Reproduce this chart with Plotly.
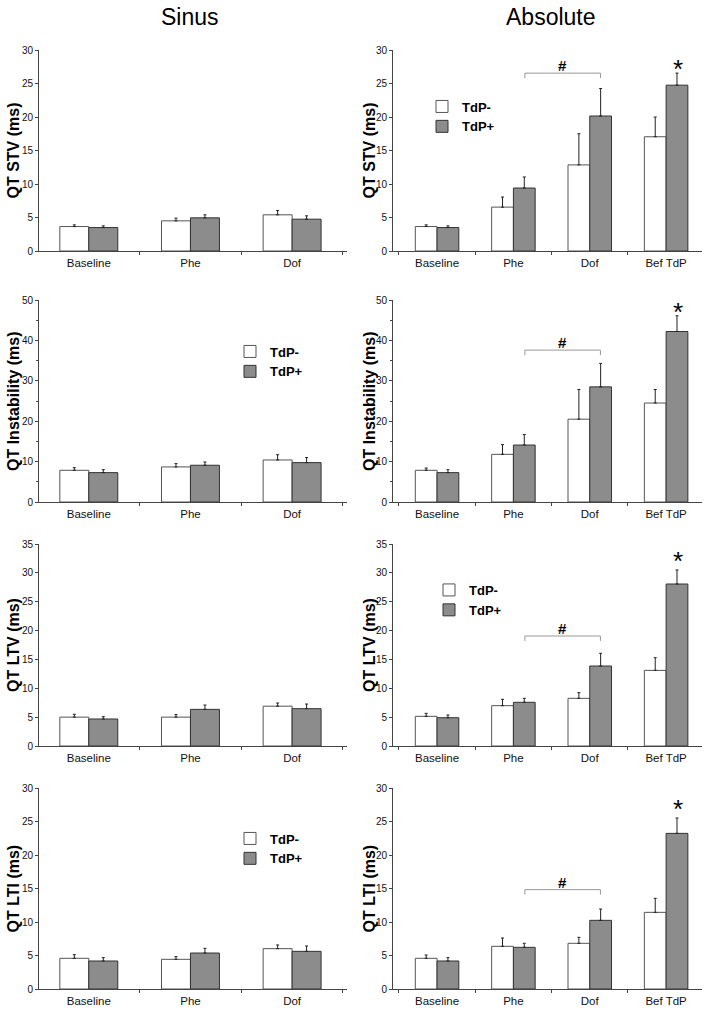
import plotly.graph_objects as go
from plotly.subplots import make_subplots

# ---------------- data ----------------
cats_sinus = ["Baseline", "Phe", "Dof"]
cats_abs = ["Baseline", "Phe", "Dof", "Bef TdP"]
col_titles = ["Sinus", "Absolute"]
y_titles = ["QT STV (ms)", "QT Instability (ms)", "QT LTV (ms)", "QT LTI (ms)"]
y_max = [30, 50, 35, 30]
y_dtick = [5, 10, 5, 5]

# QT STV
stv_sin_neg = [3.65, 4.5, 5.4]
stv_sin_neg_err = [0.25, 0.4, 0.65]
stv_sin_pos = [3.5, 4.95, 4.75]
stv_sin_pos_err = [0.25, 0.45, 0.5]
stv_abs_neg = [3.65, 6.55, 12.85, 17.05]
stv_abs_neg_err = [0.25, 1.5, 4.65, 2.95]
stv_abs_pos = [3.5, 9.4, 20.15, 24.75]
stv_abs_pos_err = [0.25, 1.65, 4.1, 1.8]

# QT Instability
ins_sin_neg = [7.85, 8.68, 10.4]
ins_sin_neg_err = [0.65, 0.82, 1.3]
ins_sin_pos = [7.27, 9.1, 9.75]
ins_sin_pos_err = [0.73, 0.8, 1.25]
ins_abs_neg = [7.85, 11.8, 20.5, 24.5]
ins_abs_neg_err = [0.55, 2.4, 7.35, 3.35]
ins_abs_pos = [7.27, 14.1, 28.5, 42.2]
ins_abs_pos_err = [0.73, 2.6, 5.8, 3.9]

# QT LTV
ltv_sin_neg = [5.0, 5.0, 6.9]
ltv_sin_neg_err = [0.5, 0.45, 0.55]
ltv_sin_pos = [4.68, 6.35, 6.47]
ltv_sin_pos_err = [0.4, 0.75, 0.8]
ltv_abs_neg = [5.14, 6.99, 8.26, 13.1]
ltv_abs_neg_err = [0.52, 1.1, 0.98, 2.2]
ltv_abs_pos = [4.9, 7.57, 13.86, 28.07]
ltv_abs_pos_err = [0.47, 0.69, 2.2, 2.43]

# QT LTI
lti_sin_neg = [4.58, 4.43, 6.02]
lti_sin_neg_err = [0.54, 0.4, 0.55]
lti_sin_pos = [4.18, 5.37, 5.62]
lti_sin_pos_err = [0.5, 0.7, 0.8]
lti_abs_neg = [4.58, 6.37, 6.82, 11.44]
lti_abs_neg_err = [0.49, 1.24, 0.89, 2.09]
lti_abs_pos = [4.18, 6.22, 10.25, 23.23]
lti_abs_pos_err = [0.5, 0.6, 1.69, 2.29]

# significance markers (Absolute panels)
bracket_y = [26.55, 37.6, 19.06, 14.83]
star_y = [27.8, 47.9, 32.8, 27.5]

sinus_rows = [
    (stv_sin_neg, stv_sin_neg_err, stv_sin_pos, stv_sin_pos_err),
    (ins_sin_neg, ins_sin_neg_err, ins_sin_pos, ins_sin_pos_err),
    (ltv_sin_neg, ltv_sin_neg_err, ltv_sin_pos, ltv_sin_pos_err),
    (lti_sin_neg, lti_sin_neg_err, lti_sin_pos, lti_sin_pos_err),
]
abs_rows = [
    (stv_abs_neg, stv_abs_neg_err, stv_abs_pos, stv_abs_pos_err),
    (ins_abs_neg, ins_abs_neg_err, ins_abs_pos, ins_abs_pos_err),
    (ltv_abs_neg, ltv_abs_neg_err, ltv_abs_pos, ltv_abs_pos_err),
    (lti_abs_neg, lti_abs_neg_err, lti_abs_pos, lti_abs_pos_err),
]

# which panel carries the legend: (row, col)
legend_panels = [(1, 2), (2, 1), (3, 2), (4, 1)]

# ---------------- layout geometry ----------------
W, H = 708, 1012


def px_x(x):
    return x / W


def px_y(y):
    return 1 - y / H


FONT = "Liberation Sans, Arial, sans-serif"
x_dom = {1: [px_x(39), px_x(347)], 2: [px_x(393), px_x(702)]}
row_px = [(50, 251), (300, 502), (544, 746), (788, 989)]
x_rng = {1: [-0.49, 2.54], 2: [-0.577, 3.47]}

NEG_FILL, NEG_LINE = "#ffffff", "#555555"
POS_FILL, POS_LINE = "#8c8c8c", "#333333"

fig = make_subplots(rows=4, cols=2)

for r in range(1, 5):
    for c in (1, 2):
        cats = cats_sinus if c == 1 else cats_abs
        neg, neg_e, pos, pos_e = (sinus_rows if c == 1 else abs_rows)[r - 1]
        li = legend_panels.index((r, c)) + 1 if (r, c) in legend_panels else None
        lname = None if li is None else ("legend" if li == 1 else f"legend{li}")
        for name, vals, errs, fill, line in (
            ("TdP-", neg, neg_e, NEG_FILL, NEG_LINE),
            ("TdP+", pos, pos_e, POS_FILL, POS_LINE),
        ):
            kw = dict(
                x=cats, y=vals, name=name,
                marker=dict(color=fill, line=dict(color=line, width=1)),
                error_y=dict(type="data", array=errs, arrayminus=[0] * len(errs),
                             symmetric=False, color="#222222", thickness=1, width=1.5),
                showlegend=li is not None,
            )
            if lname:
                kw["legend"] = lname
            fig.add_trace(go.Bar(**kw), row=r, col=c)

fig.update_layout(
    width=W, height=H, margin=dict(l=0, r=0, t=0, b=0, pad=0, autoexpand=False),
    paper_bgcolor="white", plot_bgcolor="white",
    barmode="group", bargap=0.43, bargroupgap=0,
    font=dict(family=FONT, color="#000000"),
)

annotations = []
shapes = []
for r in range(1, 5):
    top, bot = row_px[r - 1]
    y_dom = [px_y(bot), px_y(top)]
    for c in (1, 2):
        idx = (r - 1) * 2 + c
        xa = "xaxis" if idx == 1 else f"xaxis{idx}"
        ya = "yaxis" if idx == 1 else f"yaxis{idx}"
        fig.layout[xa].update(
            domain=x_dom[c], range=x_rng[c], showline=True, linecolor="#444444",
            linewidth=1, ticks="outside", tickson="boundaries", ticklen=3,
            tickcolor="#444444", showgrid=False, zeroline=False, automargin=False,
            tickfont=dict(size=11.5, family=FONT, color="#111111"),
            ticklabelstandoff=1,
        )
        ydict = dict(
            domain=y_dom, range=[0, y_max[r - 1]], dtick=y_dtick[r - 1],
            showline=True, linecolor="#444444", linewidth=1, ticks="outside",
            ticklen=3, tickcolor="#444444", showgrid=False, zeroline=False,
            automargin=False,
            tickfont=dict(size=10, family=FONT, color="#111111"),
        )
        if r == 2:
            ydict["minor"] = dict(dtick=5, ticks="outside", ticklen=2, tickcolor="#444444")
        fig.layout[ya].update(**ydict)

        # y-axis title
        xt = 13 if c == 1 else 369
        annotations.append(dict(
            text=f"<b>{y_titles[r - 1]}</b>", xref="paper", yref="paper",
            x=px_x(xt), y=(y_dom[0] + y_dom[1]) / 2, textangle=-90,
            showarrow=False, xanchor="center", yanchor="middle",
            font=dict(size=16, family=FONT, color="#000000"),
        ))

        if c == 2:
            xr = "x" if idx == 1 else f"x{idx}"
            yr = "y" if idx == 1 else f"y{idx}"
            yb = bracket_y[r - 1]
            drop = y_max[r - 1] * 5 / 201
            x0, x1 = 1.15, 2.14
            for (a, b, cc, d) in ((x0, yb - drop, x0, yb), (x0, yb, x1, yb), (x1, yb, x1, yb - drop)):
                shapes.append(dict(type="line", xref=xr, yref=yr, x0=a, y0=b, x1=cc, y1=d,
                                   line=dict(color="#999999", width=1)))
            annotations.append(dict(
                text="<b>#</b>", xref=xr, yref=yr, x=(x0 + x1) / 2, y=yb,
                yanchor="bottom", yshift=-3, showarrow=False,
                font=dict(size=15, family=FONT, color="#000000"),
            ))
            annotations.append(dict(
                text="*", xref=xr, yref=yr, x=3.15, y=star_y[r - 1],
                yanchor="middle", yshift=-4, showarrow=False,
                font=dict(size=26, family=FONT, color="#000000"),
            ))

# column titles
for c, (txt, xc) in enumerate(zip(col_titles, [190, 551])):
    annotations.append(dict(
        text=txt, xref="paper", yref="paper", x=px_x(xc), y=px_y(17),
        xanchor="center", yanchor="middle", showarrow=False,
        font=dict(size=23, family=FONT, color="#000000"),
    ))

fig.update_layout(annotations=annotations, shapes=shapes)

# legends (lx, ly = centre of the first legend swatch, page pixels)
leg_pos = [(445, 106), (253, 351), (452, 589.5), (253, 838)]
for i, (lx, ly) in enumerate(leg_pos, start=1):
    key = "legend" if i == 1 else f"legend{i}"
    fig.layout[key] = dict(
        x=px_x(lx - 23), y=px_y(ly - 14.5), xanchor="left", yanchor="top",
        bgcolor="rgba(0,0,0,0)", borderwidth=0,
        font=dict(size=13, family=FONT, color="#000000", weight="bold"),
        traceorder="normal",
    )

# page body has a default 8px margin; remove it so the 708x1012 figure fills the window
fig.write_html(
    "out.html",
    config={"displayModeBar": False},
    post_script="document.body.style.margin='0px';",
)
